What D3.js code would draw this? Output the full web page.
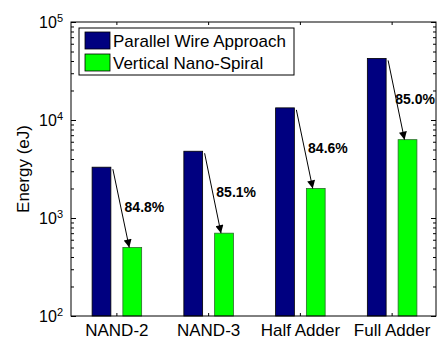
<!DOCTYPE html>
<html>
<head>
<meta charset="utf-8">
<script src="https://cdnjs.cloudflare.com/ajax/libs/d3/7.8.5/d3.min.js"></script>
<style>
  body { margin: 0; background: #fff; }
  text { font-family: "Liberation Sans", Arial, sans-serif; fill: #000; }
</style>
</head>
<body>
<div id="chart"></div>
<script>
// chart values
var categories = ["NAND-2", "NAND-3", "Half Adder", "Full Adder"];
var seriesNames = ["Parallel Wire Approach", "Vertical Nano-Spiral"];
var parallelWire = [3300, 4800, 13300, 42500];
var nanoSpiral = [500, 700, 2000, 6300];
var reductionLabels = ["84.8%", "85.1%", "84.6%", "85.0%"];
var yTicks = [100, 1000, 10000, 100000];
var yTickExp = ["2", "3", "4", "5"];

var colors = ["#000080", "#00ff00"];

// Set the margin and dimensions of the chart
var width = 437, height = 341;
var margin = { top: 22, right: 1, bottom: 25, left: 71 };
var w = width - margin.left - margin.right;
var h = height - margin.top - margin.bottom;

var svg = d3.select("#chart")
            .append("svg")
            .attr("width", width)
            .attr("height", height)
            .append("g")
            .attr("transform", "translate(" + margin.left + "," + margin.top + ")");

var x = d3.scaleBand()
          .domain(categories)
          .range([0, w + 2]);
var xInner = d3.scaleBand()
               .domain([0, 1])
               .range([x.bandwidth() * 0.23, x.bandwidth() * 0.77])
               .paddingInner(0.39);
var y = d3.scaleLog()
          .domain([100, 100000])
          .range([h, 0]);

var rows = categories.map(function(c, i) {
  return { cat: c, values: [parallelWire[i], nanoSpiral[i]], label: reductionLabels[i] };
});

// bars
var groups = svg.selectAll(".grp")
  .data(rows)
  .enter()
  .append("g")
  .attr("class", "grp")
  .attr("transform", function(d) { return "translate(" + x(d.cat) + ",0)"; });

groups.selectAll("rect")
  .data(function(d) { return d.values; })
  .enter()
  .append("rect")
  .attr("x", function(d, i) { return xInner(i); })
  .attr("width", xInner.bandwidth())
  .attr("y", function(d) { return y(d); })
  .attr("height", function(d) { return h - y(d); })
  .attr("fill", function(d, i) { return colors[i]; })
  .attr("stroke", function(d, i) { return i == 0 ? "#000" : "#2a6a2a"; })
  .attr("stroke-width", 0.8);

// arrows
svg.append("defs").append("marker")
   .attr("id", "head")
   .attr("viewBox", "0 0 10 10")
   .attr("refX", 10)
   .attr("refY", 5)
   .attr("markerWidth", 10)
   .attr("markerHeight", 8)
   .attr("markerUnits", "userSpaceOnUse")
   .attr("orient", "auto")
   .append("path")
   .attr("d", "M0,0L10,5L0,10Z")
   .attr("fill", "#000");

groups.append("line")
  .attr("x1", function(d) { return xInner(0) + xInner.bandwidth() + 2; })
  .attr("y1", function(d) { return y(d.values[0]) + 2; })
  .attr("x2", function(d) { return xInner(1) + xInner.bandwidth() / 2 - 3; })
  .attr("y2", function(d) { return y(d.values[1]); })
  .attr("stroke", "#000")
  .attr("stroke-width", 1)
  .attr("marker-end", "url(#head)");

groups.append("text")
  .attr("class", "pct")
  .attr("x", function(d) { return (xInner(0) + xInner.bandwidth() + xInner(1) + xInner.bandwidth() / 2) / 2 + 3; })
  .attr("y", function(d) { return (y(d.values[0]) + y(d.values[1])) / 2; })
  .attr("dy", "0.35em")
  .style("font-size", "14px")
  .style("font-weight", "bold")
  .text(function(d) { return d.label; });

// keep the last label inside the window
groups.selectAll(".pct").each(function(d) {
  var t = d3.select(this);
  var right = margin.left + x(d.cat) + (+t.attr("x")) + this.getComputedTextLength();
  if (right > width - 2) t.attr("x", +t.attr("x") - (right - (width - 2)));
});

// frame
svg.append("rect")
   .attr("x", 0).attr("y", 0)
   .attr("width", w).attr("height", h)
   .attr("fill", "none")
   .attr("stroke", "#000")
   .attr("stroke-width", 1);

// y ticks (left and right, inward)
var minorTicks = [];
[100, 1000, 10000].forEach(function(dec) {
  for (var k = 2; k <= 9; k++) minorTicks.push(dec * k);
});
var yAxisL = d3.axisLeft(y).tickValues(yTicks).tickSize(-5).tickFormat("");
var yAxisLm = d3.axisLeft(y).tickValues(minorTicks).tickSize(-3).tickFormat("");
var yAxisR = d3.axisRight(y).tickValues(yTicks).tickSize(-5).tickFormat("");
var yAxisRm = d3.axisRight(y).tickValues(minorTicks).tickSize(-3).tickFormat("");
[yAxisL, yAxisLm].forEach(function(a) {
  svg.append("g").attr("class", "yax").call(a);
});
[yAxisR, yAxisRm].forEach(function(a) {
  svg.append("g").attr("class", "yax").attr("transform", "translate(" + w + ",0)").call(a);
});
svg.selectAll(".yax .domain").remove();

// x ticks (bottom and top, inward)
var xAxisB = d3.axisBottom(x).tickSize(-3).tickSizeOuter(0).tickFormat("");
var xAxisT = d3.axisTop(x).tickSize(-3).tickSizeOuter(0).tickFormat("");
var gxb = svg.append("g").attr("transform", "translate(0," + h + ")").call(xAxisB);
var gxt = svg.append("g").call(xAxisT);
gxb.select(".domain").remove();
gxt.select(".domain").remove();
svg.selectAll(".tick line").attr("stroke", "#000");

// x labels
svg.selectAll(".xlab")
   .data(categories)
   .enter()
   .append("text")
   .attr("class", "xlab")
   .attr("x", function(d) { return x(d) + x.bandwidth() / 2; })
   .attr("y", h + 20)
   .attr("text-anchor", "middle")
   .style("font-size", "17px")
   .text(function(d) { return d; });

// y labels 10^n
var ylab = svg.selectAll(".ylab")
   .data(yTicks)
   .enter()
   .append("text")
   .attr("class", "ylab")
   .attr("x", -8)
   .attr("y", function(d) { return y(d); })
   .attr("dy", "0.35em")
   .attr("text-anchor", "end")
   .style("font-size", "16px");
ylab.append("tspan").text("10");
ylab.append("tspan")
    .attr("dy", "-0.55em")
    .style("font-size", "11px")
    .text(function(d, i) { return yTickExp[i]; });

svg.append("text")
   .attr("transform", "rotate(-90)")
   .attr("x", -h / 2)
   .attr("y", -42)
   .attr("text-anchor", "middle")
   .style("font-size", "17px")
   .text("Energy (eJ)");

// legend
var legend = svg.append("g")
                .attr("transform", "translate(8,6)");
legend.append("rect")
      .attr("width", 215)
      .attr("height", 47)
      .attr("fill", "#fff")
      .attr("stroke", "#000")
      .attr("stroke-width", 1);
legend.selectAll(".sw")
      .data(seriesNames)
      .enter()
      .append("rect")
      .attr("x", 6)
      .attr("y", function(d, i) { return 4 + i * 22; })
      .attr("width", 25)
      .attr("height", 17)
      .attr("fill", function(d, i) { return colors[i]; })
      .attr("stroke", "#000")
      .attr("stroke-width", 0.8);
legend.selectAll(".lt")
      .data(seriesNames)
      .enter()
      .append("text")
      .attr("x", 34)
      .attr("y", function(d, i) { return 13 + i * 22; })
      .attr("dy", "0.35em")
      .style("font-size", "17px")
      .text(function(d) { return d; });
</script>
</body>
</html>
